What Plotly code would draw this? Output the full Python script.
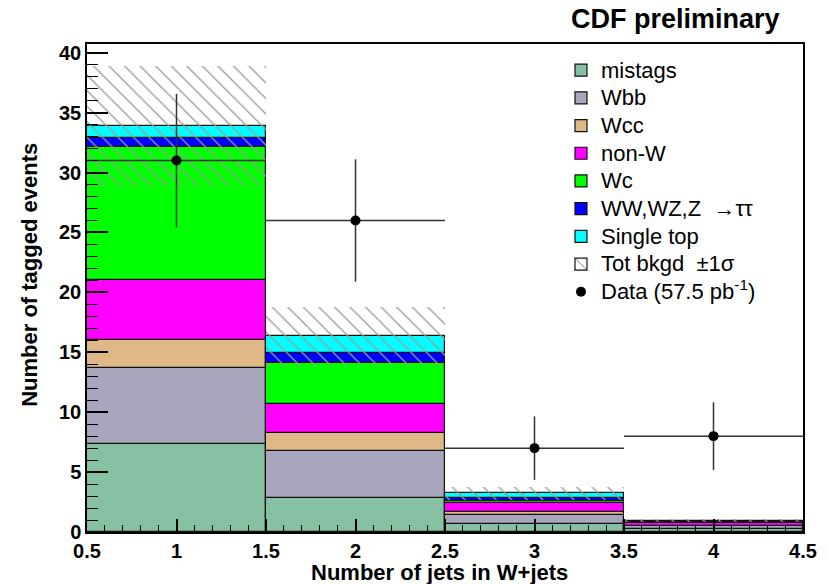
import numpy as np
import plotly.graph_objects as go

# ---- data ----
bin_centers = [1, 2, 3, 4]
mistags = [7.37, 2.84, 0.67, 0.25]
wbb = [6.32, 3.92, 0.77, 0.22]
wcc = [2.31, 1.50, 0.20, 0.05]
non_w = [5.06, 2.42, 0.78, 0.25]
wc = [11.08, 3.39, 0.18, 0.05]
ww_wz_z = [0.75, 0.84, 0.26, 0.05]
single_top = [0.97, 1.42, 0.36, 0.08]
bkgd_sigma = [5.0, 2.45, 0.53, 0.15]
data_y = [31, 26, 7, 8]
data_err = [5.57, 5.10, 2.65, 2.83]
data_xerr = [0.5, 0.5, 0.5, 0.5]
x_tickvals = [0.5, 1, 1.5, 2, 2.5, 3, 3.5, 4, 4.5]
x_ticktext = ["0.5", "1", "1.5", "2", "2.5", "3", "3.5", "4", "4.5"]
y_tickvals = [0, 5, 10, 15, 20, 25, 30, 35, 40]

components = [
    ("mistags", mistags, "#86C1A3"),
    ("Wbb", wbb, "#A8A6BD"),
    ("Wcc", wcc, "#DEB887"),
    ("non-W", non_w, "#FF00FF"),
    ("Wc", wc, "#00FF00"),
    ("WW,WZ,Z  →ττ", ww_wz_z, "#0000FF"),
    ("Single top", single_top, "#00FFFF"),
]

FONT = "Liberation Sans, Arial, Helvetica, sans-serif"


def big(t):
    return '<span style="font-size:22px">' + t + "</span>"


fig = go.Figure()
base = np.zeros(len(bin_centers))
for name, vals, col in components:
    vals = np.array(vals, dtype=float)
    fig.add_trace(go.Bar(
        x=bin_centers, y=vals, base=base.copy(), width=1.0, name=big(name),
        marker=dict(color=col, line=dict(color="#111111", width=1.2)),
        hoverinfo="skip",
    ))
    base = base + vals

total = base
sig = np.array(bkgd_sigma)
hatch_pattern = dict(shape="\\", fgcolor="#9a9a9a", bgcolor="rgba(0,0,0,0)",
                     size=11, solidity=0.12, fillmode="replace")
fig.add_trace(go.Bar(
    x=bin_centers, y=2 * sig, base=total - sig, width=1.0, showlegend=False,
    marker=dict(color="rgba(0,0,0,0)", pattern=hatch_pattern, line=dict(width=0)),
    hoverinfo="skip",
))
# legend-only entry for the hatched uncertainty band
fig.add_trace(go.Bar(
    x=[None], y=[None], name=big("Tot bkgd  ±1σ"),
    marker=dict(color="white", pattern=hatch_pattern, line=dict(color="#111111", width=1.2)),
))

fig.add_trace(go.Scatter(
    x=bin_centers, y=data_y, mode="markers", name=big("Data (57.5 pb<sup>-1</sup>)"),
    marker=dict(color="black", size=10),
    error_y=dict(type="data", array=data_err, width=0, thickness=1.5, color="#333333"),
    error_x=dict(type="data", array=data_xerr, width=0, thickness=1.5, color="#333333"),
))

axis_common = dict(showline=True, linecolor="black", linewidth=1.5, mirror=True,
                   showgrid=False, zeroline=False, ticks="inside", tickcolor="black",
                   tickwidth=1.5,
                   tickfont=dict(family=FONT, size=20, color="black", weight="bold"))

fig.update_layout(
    width=829, height=584,
    margin=dict(l=87, r=20, t=44, b=52),
    paper_bgcolor="white", plot_bgcolor="white",
    barmode="overlay", bargap=0,
    font=dict(family=FONT, color="black"),
    xaxis=dict(range=[0.5, 4.5], tickvals=x_tickvals, ticktext=x_ticktext, ticklen=13,
               minor=dict(dtick=0.1, tick0=0.5, ticklen=7, ticks="inside", tickcolor="black", tickwidth=1.2),
               **axis_common),
    yaxis=dict(range=[0, 40.73], tickvals=y_tickvals, ticklen=21,
               minor=dict(dtick=1, tick0=0, ticklen=11, ticks="inside", tickcolor="black", tickwidth=1.2),
               **axis_common),
    legend=dict(x=0.662, y=0.985, xanchor="left", yanchor="top", traceorder="normal",
                bgcolor="rgba(255,255,255,0)", borderwidth=0,
                font=dict(family=FONT, size=19, color="black"), itemwidth=30),
    showlegend=True,
    annotations=[
        dict(text="<b>CDF preliminary</b>", xref="paper", yref="paper", x=0.971, y=1.0,
             xanchor="right", yanchor="middle", yshift=25, showarrow=False,
             font=dict(family=FONT, size=27, color="black")),
        dict(text="<b>Number of jets in W+jets</b>", xref="paper", yref="paper", x=0.493, y=0,
             xanchor="center", yanchor="middle", yshift=-40, showarrow=False,
             font=dict(family=FONT, size=22, color="black")),
        dict(text="<b>Number of tagged events</b>", xref="paper", yref="paper", x=0, y=0.527,
             xanchor="center", yanchor="middle", xshift=-57, textangle=-90, showarrow=False,
             font=dict(family=FONT, size=22, color="black")),
    ],
)

fig.write_html("out.html", config={"displayModeBar": False},
               post_script="document.body.style.margin='0px';")
